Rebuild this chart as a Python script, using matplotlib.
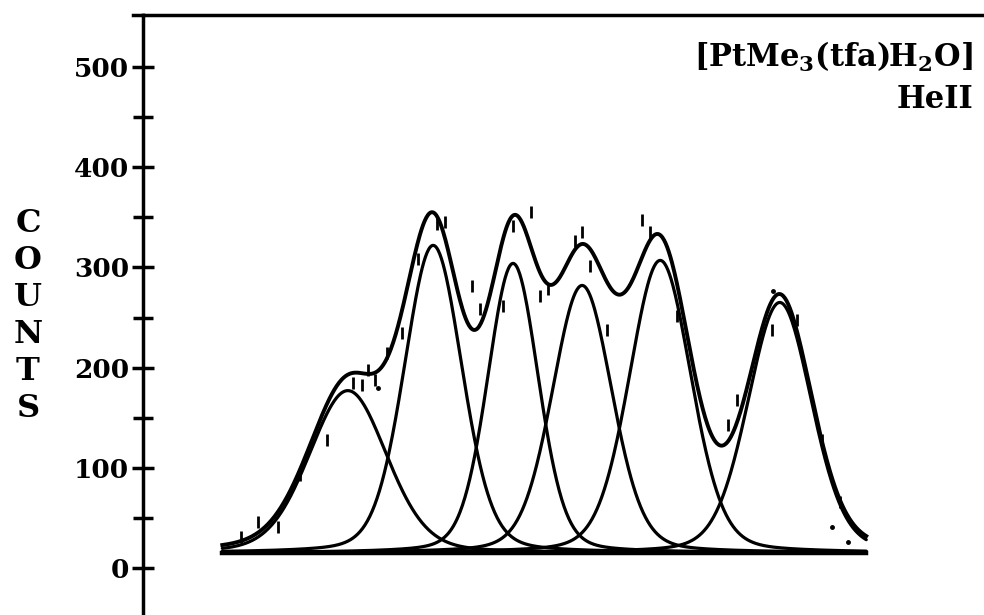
import matplotlib
matplotlib.use("Agg")
import matplotlib.pyplot as plt
import numpy as np

# fitted band components: centre (eV), height above baseline (counts), width (eV)
centres = [8.41, 9.83, 11.16, 12.31, 13.61, 15.60]
heights = [162, 307, 289, 267, 292, 250]
widths = [0.649, 0.483, 0.425, 0.499, 0.516, 0.533]
lorentz_frac = 0.2
baseline = 15
x_start, x_end = 6.32, 17.04

pts_x = [6.63, 6.91, 7.25, 7.61, 8.06, 8.50, 8.65, 8.75, 8.86, 9.06, 9.31, 9.58,
         9.89, 10.03, 10.48, 10.61, 10.99, 11.16, 11.46, 11.61, 11.74, 12.19,
         12.31, 12.44, 12.72, 13.31, 13.44, 13.89, 14.74, 14.89, 15.47, 15.89,
         16.30, 16.60]
pts_y = [31, 46, 41, 93, 128, 185, 183, 198, 188, 215, 235, 308,
         343, 345, 281, 258, 261, 341, 355, 271, 278, 326,
         335, 301, 238, 347, 335, 252, 143, 168, 238, 248,
         128, 66]
dots_x = [8.91, 15.49, 16.47, 16.74]
dots_y = [180, 276, 41, 26]

yticks = [0, 100, 200, 300, 400, 500]

plt.rcParams["font.family"] = ["DejaVu Serif"]
plt.rcParams["font.weight"] = "bold"
plt.rcParams["mathtext.fontset"] = "dejavuserif"
plt.rcParams["mathtext.default"] = "bf"

fig = plt.figure(figsize=(9.84, 6.15), dpi=100)
ax = fig.add_axes([143 / 984, 0.0, 1 - 143 / 984, 600 / 615])


def band(x, c, h, w):
    # pseudo-Voigt: mostly gaussian with a little lorentzian tail
    hw = w * np.sqrt(2 * np.log(2))
    g = np.exp(-(x - c) ** 2 / (2 * w ** 2))
    lo = 1.0 / (1.0 + ((x - c) / hw) ** 2)
    return h * ((1 - lorentz_frac) * g + lorentz_frac * lo)


x = np.linspace(x_start, x_end, 800)
total = np.full_like(x, baseline, dtype=float)
for c, h, w in zip(centres, heights, widths):
    b = band(x, c, h, w)
    total += b
    ax.plot(x, baseline + b, color="black", lw=2.3, solid_capstyle="round")

ax.plot([x_start, x_end], [baseline, baseline], color="black", lw=3.2)
ax.plot(x, total, color="black", lw=2.8)
ax.plot(pts_x, pts_y, ls="none", marker="|", ms=9, mew=2, color="black")
ax.plot(dots_x, dots_y, ls="none", marker="o", ms=2.5, color="black")

ax.set_xlim(5.0, 19.0)
ax.set_ylim(-47, 552)
ax.spines["right"].set_visible(False)
ax.spines["bottom"].set_visible(False)
ax.spines["left"].set_linewidth(2.5)
ax.spines["top"].set_linewidth(2.5)
# top rule runs a little past the left axis
ax.plot([-0.012, 0.0], [1, 1], transform=ax.transAxes, color="black",
        lw=2.5, clip_on=False)

ax.set_xticks([])
ax.set_yticks(yticks)
ax.set_yticks(np.arange(50, 500, 100), minor=True)
ax.tick_params(axis="y", which="major", direction="inout", length=16, width=2.5,
               labelsize=19, pad=2)
ax.tick_params(axis="y", which="minor", direction="inout", length=14, width=2.5)
for lab in ax.get_yticklabels():
    lab.set_fontweight("bold")

fig.text(28 / 984, 1 - 316 / 615, "\n".join("COUNTS"), ha="center", va="center",
         fontsize=23, fontweight="bold", linespacing=1.25)
fig.text(973 / 984, 1 - 57 / 615, "[PtMe$_3$(tfa)H$_2$O]", ha="right",
         va="center", fontsize=22, fontweight="bold")
fig.text(973 / 984, 1 - 100 / 615, "HeII", ha="right", va="center",
         fontsize=22, fontweight="bold")

fig.savefig("out.png", dpi=100)
